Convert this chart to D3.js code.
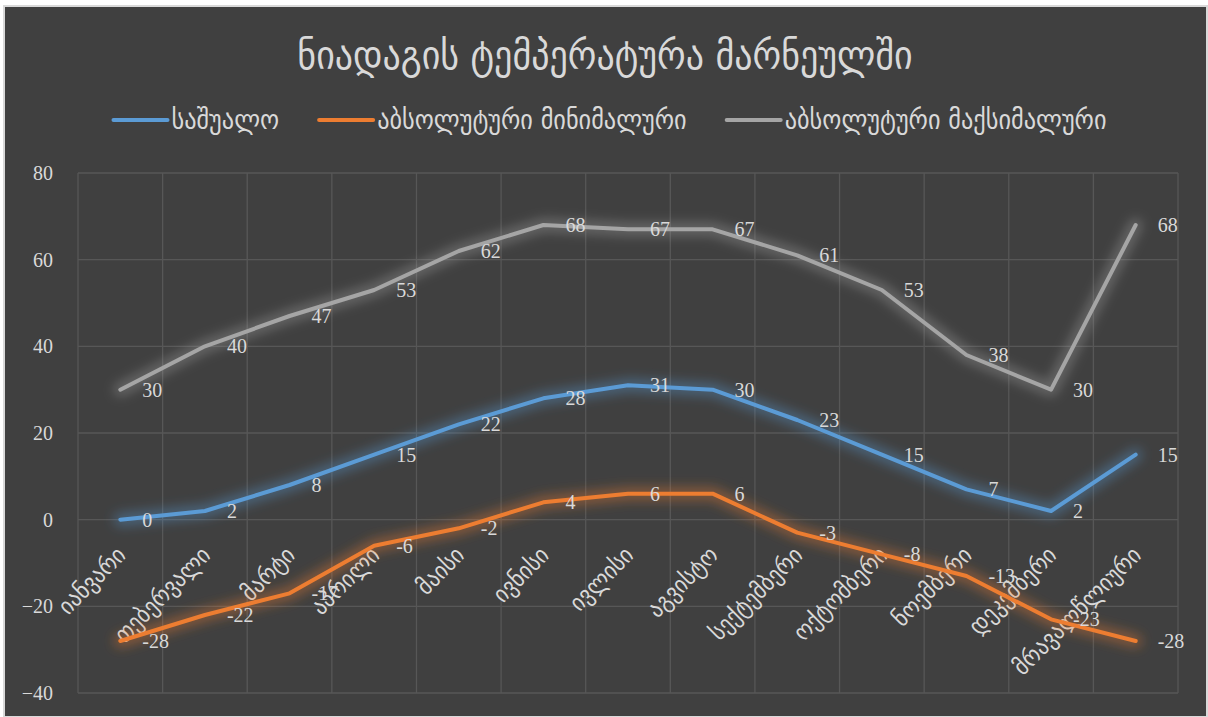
<!DOCTYPE html>
<html>
<head>
<meta charset="utf-8">
<title>ნიადაგის ტემპერატურა მარნეულში</title>
<script type="text/javascript" src="https://d3js.org/d3.v7.min.js"></script>
<style type="text/css">
  body, html { margin: 0; padding: 0; background: #ffffff; }
  svg { display: block; }
  .num { font-family: "Liberation Serif", "DejaVu Serif", serif; fill: #d9d9d9; }
  .geo { font-family: "DejaVu Sans Condensed", "DejaVu Sans", sans-serif; font-stretch: condensed; fill: #d9d9d9; }
</style>
</head>
<body>
<div id="chart"></div>
<script type="text/javascript">
// categories (months + annual)
var months = ["იანვარი", "თებერვალი", "მარტი", "აპრილი", "მაისი", "ივნისი", "ივლისი",
  "აგვისტო", "სექტემბერი", "ოქტომბერი", "ნოემბერი", "დეკემბერი", "მრავალწლიური"];

// series values
var average = [0, 2, 8, 15, 22, 28, 31, 30, 23, 15, 7, 2, 15];
var absMin = [-28, -22, -17, -6, -2, 4, 6, 6, -3, -8, -13, -23, -28];
var absMax = [30, 40, 47, 53, 62, 68, 67, 67, 61, 53, 38, 30, 68];

var seriesNames = ["საშუალო", "აბსოლუტური მინიმალური", "აბსოლუტური მაქსიმალური"];
var yTicks = [-40, -20, 0, 20, 40, 60, 80];
var title = "ნიადაგის ტემპერატურა მარნეულში";

var W = 1208, H = 717;
var colors = ["#5b9bd5", "#ed7d31", "#a5a5a5"];
var series = [average, absMin, absMax];

var svg = d3.select("#chart").append("svg")
    .attr("width", W)
    .attr("height", H);

// glow filter
var defs = svg.append("defs");
var f = defs.append("filter").attr("id", "glow")
    .attr("x", "-20%").attr("y", "-20%").attr("width", "140%").attr("height", "140%");
f.append("feGaussianBlur").attr("stdDeviation", 6);

// chart area
svg.append("rect")
    .attr("x", 4).attr("y", 6)
    .attr("width", W - 5).attr("height", H - 6)
    .attr("fill", "#404040")
    .attr("stroke", "#d9d9d9")
    .attr("stroke-width", 2);

var x = d3.scaleBand().domain(months).range([78, 1178]);
var y = d3.scaleLinear().domain([-40, 80]).range([693, 173]);

// grid
var grid = svg.append("g");
grid.selectAll("line.h").data(yTicks).enter().append("line")
    .attr("x1", 78).attr("x2", 1178)
    .attr("y1", function(d) { return y(d); })
    .attr("y2", function(d) { return y(d); })
    .attr("stroke", "#575757").attr("stroke-width", 1.3);
var bounds = months.map(function(m) { return x(m); }).concat([x.range()[1]]);
grid.selectAll("line.v").data(bounds).enter().append("line")
    .attr("x1", function(d) { return d; }).attr("x2", function(d) { return d; })
    .attr("y1", y(80)).attr("y2", y(-40))
    .attr("stroke", "#575757").attr("stroke-width", 1.3);

// y axis labels
var yAxis = d3.axisLeft(y).tickValues(yTicks).tickSize(0).tickPadding(25);
var ya = svg.append("g").attr("transform", "translate(78,0)").call(yAxis);
ya.select(".domain").remove();
ya.selectAll("text").attr("class", "num").attr("fill", "#d9d9d9")
    .style("font-size", "20px");

// x axis labels (rotated)
svg.append("g").selectAll("text").data(months).enter().append("text")
    .attr("class", "geo")
    .style("font-size", "24px")
    .attr("text-anchor", "end")
    .attr("transform", function(d) {
      return "translate(" + (x(d) + x.bandwidth() / 2 + 1) + "," + (y(0) + 31) + ") rotate(-45)";
    })
    .attr("dy", "0.35em")
    .text(function(d) { return d; });

// lines
var line = d3.line()
    .x(function(d, i) { return x(months[i]) + x.bandwidth() / 2; })
    .y(function(d) { return y(d); });

series.forEach(function(s, k) {
  svg.append("path").datum(s)
      .attr("d", line)
      .attr("fill", "none")
      .attr("stroke", colors[k])
      .attr("stroke-width", 13)
      .attr("stroke-opacity", 0.4)
      .attr("stroke-linejoin", "round")
      .attr("stroke-linecap", "round")
      .attr("filter", "url(#glow)");
});
series.forEach(function(s, k) {
  svg.append("path").datum(s)
      .attr("d", line)
      .attr("fill", "none")
      .attr("stroke", colors[k])
      .attr("stroke-width", 4)
      .attr("stroke-linejoin", "round")
      .attr("stroke-linecap", "round");
});

// data labels
series.forEach(function(s, k) {
  svg.append("g").selectAll("text").data(s).enter().append("text")
      .attr("class", "num")
      .style("font-size", "20px")
      .attr("x", function(d, i) { return x(months[i]) + x.bandwidth() / 2 + 22; })
      .attr("y", function(d) { return y(d); })
      .attr("dy", "0.35em")
      .text(function(d) { return d; });
});

// title
svg.append("text")
    .attr("class", "geo")
    .style("font-size", "40px")
    .attr("x", 605).attr("y", 55)
    .attr("text-anchor", "middle")
    .attr("dy", "0.35em")
    .text(title);

// legend
var lg = svg.append("g");
var items = seriesNames.map(function(n, k) {
  var g = lg.append("g");
  g.append("line").attr("x1", 0).attr("x2", 54).attr("y1", 0).attr("y2", 0)
      .attr("stroke", colors[k]).attr("stroke-width", 4).attr("stroke-linecap", "round");
  var t = g.append("text").attr("class", "geo").style("font-size", "27px")
      .attr("x", 58).attr("dy", "0.35em").text(n);
  return { g: g, w: 58 + t.node().getComputedTextLength() };
});
var gap = 40;
var total = d3.sum(items, function(d) { return d.w; }) + gap * (items.length - 1);
var cx = 610 - total / 2;
items.forEach(function(it) {
  it.g.attr("transform", "translate(" + cx + ",120)");
  cx += it.w + gap;
});
</script>
</body>
</html>
